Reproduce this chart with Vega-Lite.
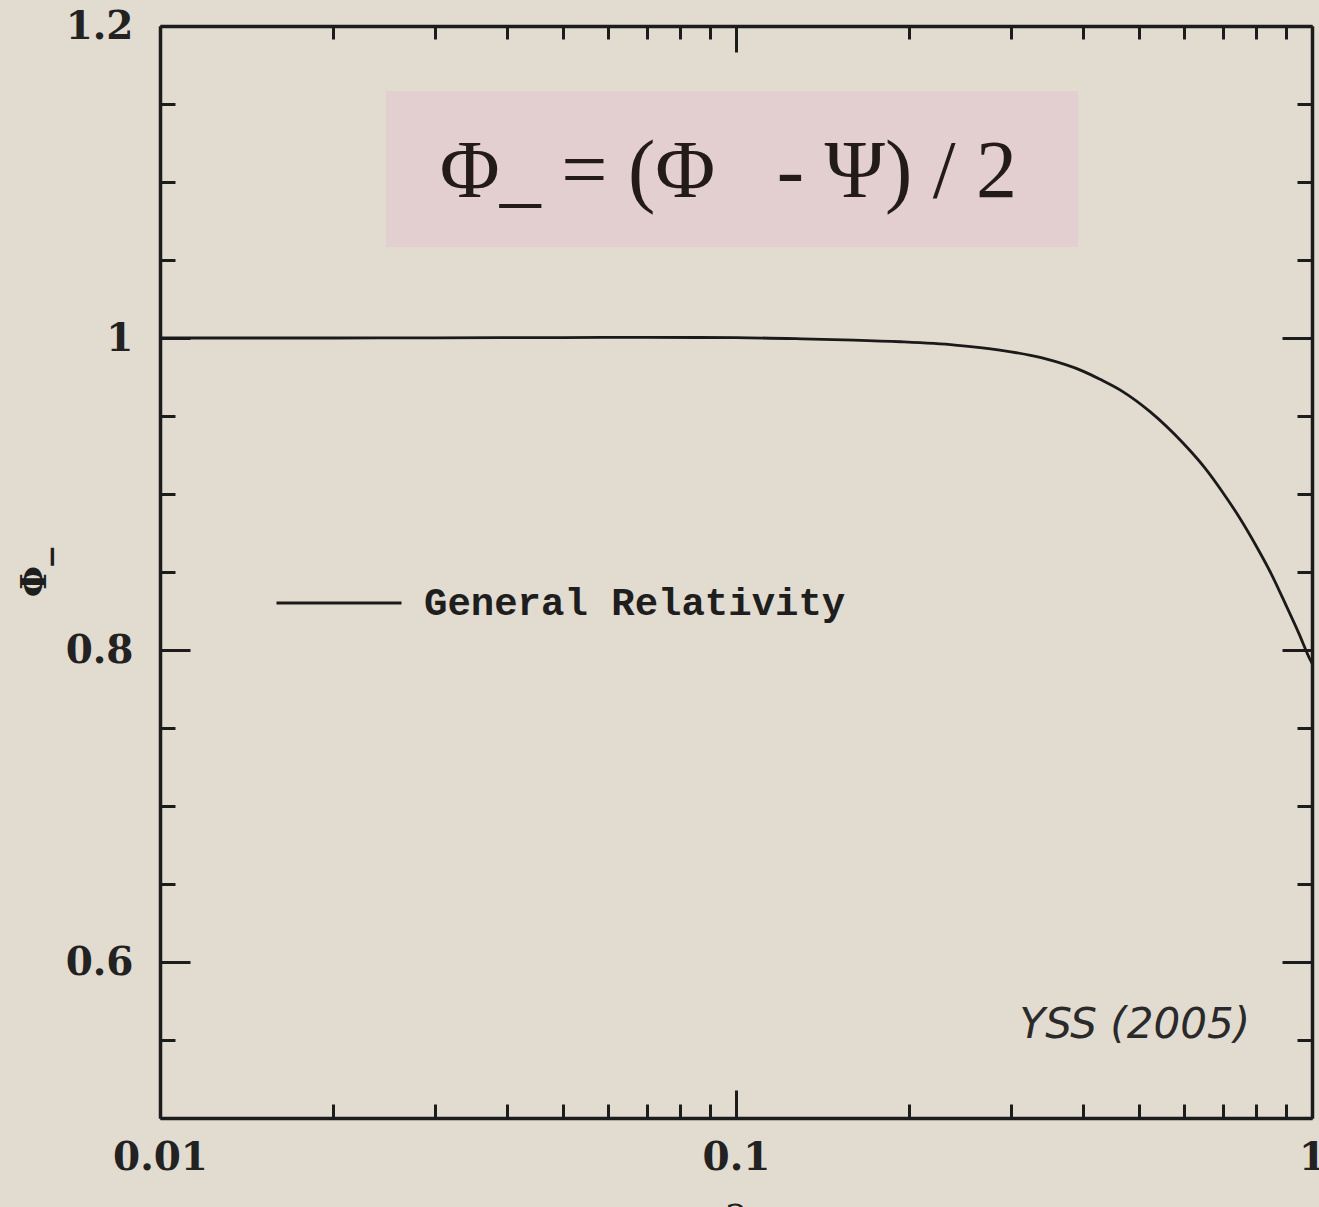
{
  "$schema": "https://vega.github.io/schema/vega-lite/v6.json",
  "width": 1152,
  "height": 1092,
  "autosize": {"type": "none"},
  "padding": {"left": 160, "top": 26, "right": 7, "bottom": 89},
  "background": "#e2dbcf",
  "config": {
    "view": {"stroke": null},
    "axis": {
      "grid": false,
      "domainColor": "#1c1c1c",
      "domainWidth": 3.5,
      "tickColor": "#1c1c1c",
      "tickWidth": 3,
      "labelFont": "DejaVu Serif",
      "labelFontSize": 39,
      "labelFontWeight": "bold",
      "labelColor": "#222222",
      "labelFlush": false,
      "labelOverlap": false,
      "titleFont": "DejaVu Serif",
      "titleFontWeight": "bold",
      "titleColor": "#1e1e1e"
    }
  },
  "datasets": {
    "phiMinus": [
      {"a": 0.01, "phi": 1.0, "model": "General Relativity"},
      {"a": 0.02, "phi": 1.0, "model": "General Relativity"},
      {"a": 0.03, "phi": 1.0001, "model": "General Relativity"},
      {"a": 0.05, "phi": 1.0003, "model": "General Relativity"},
      {"a": 0.07, "phi": 1.0004, "model": "General Relativity"},
      {"a": 0.1, "phi": 1.0002, "model": "General Relativity"},
      {"a": 0.13, "phi": 0.9995, "model": "General Relativity"},
      {"a": 0.16, "phi": 0.9987, "model": "General Relativity"},
      {"a": 0.193, "phi": 0.9976, "model": "General Relativity"},
      {"a": 0.24, "phi": 0.9955, "model": "General Relativity"},
      {"a": 0.287, "phi": 0.9923, "model": "General Relativity"},
      {"a": 0.34, "phi": 0.9872, "model": "General Relativity"},
      {"a": 0.401, "phi": 0.9786, "model": "General Relativity"},
      {"a": 0.4285, "phi": 0.9735, "model": "General Relativity"},
      {"a": 0.47, "phi": 0.9655, "model": "General Relativity"},
      {"a": 0.5233, "phi": 0.9528, "model": "General Relativity"},
      {"a": 0.5977, "phi": 0.9325, "model": "General Relativity"},
      {"a": 0.65, "phi": 0.9172, "model": "General Relativity"},
      {"a": 0.7015, "phi": 0.9005, "model": "General Relativity"},
      {"a": 0.75, "phi": 0.8843, "model": "General Relativity"},
      {"a": 0.8014, "phi": 0.8662, "model": "General Relativity"},
      {"a": 0.85, "phi": 0.8487, "model": "General Relativity"},
      {"a": 0.9036, "phi": 0.8278, "model": "General Relativity"},
      {"a": 0.95, "phi": 0.8102, "model": "General Relativity"},
      {"a": 0.9931, "phi": 0.7936, "model": "General Relativity"},
      {"a": 1.0, "phi": 0.7915, "model": "General Relativity"}
    ]
  },
  "resolve": {"axis": {"x": "independent", "y": "independent"}},
  "layer": [
    {
      "data": {"values": [{"box": "formula"}]},
      "mark": {"type": "rect", "color": "#e3cfd0"},
      "encoding": {
        "x": {"datum": 0.0247, "type": "quantitative", "scale": {"type": "log", "domain": [0.01, 1]}, "axis": null},
        "x2": {"datum": 0.3925},
        "y": {"datum": 1.1583, "type": "quantitative", "scale": {"domain": [0.5, 1.2]}, "axis": null},
        "y2": {"datum": 1.0583}
      }
    },
    {
      "data": {"values": [{"label": "Φ_\u00a0=\u00a0(Φ\u00a0\u00a0\u00a0-\u00a0Ψ)\u00a0/\u00a02"}]},
      "mark": {"type": "text", "font": "Liberation Serif", "fontSize": 82, "color": "#231a1a", "align": "left", "baseline": "alphabetic"},
      "encoding": {
        "x": {"datum": 0.0306, "type": "quantitative", "axis": null},
        "y": {"datum": 1.0904, "type": "quantitative", "axis": null},
        "text": {"field": "label"}
      }
    },
    {
      "data": {"name": "phiMinus"},
      "mark": {"type": "line", "strokeWidth": 2.8, "interpolate": "monotone"},
      "encoding": {
        "x": {
          "field": "a",
          "type": "quantitative",
          "scale": {"type": "log", "domain": [0.01, 1]},
          "axis": {
            "orient": "bottom",
            "values": [0.01, 0.02, 0.03, 0.04, 0.05, 0.06, 0.07, 0.08, 0.09, 0.1, 0.2, 0.3, 0.4, 0.5, 0.6, 0.7, 0.8, 0.9, 1],
            "format": "~g",
            "labelExpr": "datum.value == 0.01 || datum.value == 0.1 || datum.value == 1 ? datum.label : ''",
            "tickSize": {"condition": {"test": "datum.value == 0.01 || datum.value == 0.1 || datum.value == 1", "value": -28}, "value": -14},
            "labelPadding": 48,
            "title": "a",
            "titleFontSize": 40,
            "titleFontWeight": "normal",
            "titlePadding": 0
          }
        },
        "y": {
          "field": "phi",
          "type": "quantitative",
          "scale": {"domain": [0.5, 1.2]},
          "axis": {
            "orient": "left",
            "values": [0.5, 0.55, 0.6, 0.65, 0.7, 0.75, 0.8, 0.85, 0.9, 0.95, 1, 1.05, 1.1, 1.15, 1.2],
            "format": "~g",
            "labelExpr": "datum.value == 0.6 || datum.value == 0.8 || datum.value == 1 || datum.value == 1.2 ? datum.label : ''",
            "tickSize": {"condition": {"test": "datum.value == 0.6 || datum.value == 0.8 || datum.value == 1 || datum.value == 1.2", "value": -30}, "value": -15},
            "labelPadding": 57,
            "title": "Φ_",
            "titleFontSize": 36,
            "titlePadding": 12
          }
        },
        "color": {
          "field": "model",
          "type": "nominal",
          "scale": {"range": ["#1a1a1a"]},
          "legend": {
            "orient": "none",
            "legendX": 115,
            "legendY": 513,
            "title": null,
            "symbolType": "stroke",
            "symbolSize": 15625,
            "symbolStrokeWidth": 2.8,
            "labelFont": "Liberation Mono",
            "labelFontSize": 39,
            "labelFontWeight": "bold",
            "labelColor": "#1e1e1e",
            "labelOffset": 21,
            "labelLimit": 0,
            "padding": 0
          }
        }
      }
    },
    {
      "data": {"name": "phiMinus"},
      "mark": {"type": "line", "opacity": 0},
      "encoding": {
        "x": {
          "field": "a",
          "type": "quantitative",
          "axis": {
            "orient": "top",
            "values": [0.01, 0.02, 0.03, 0.04, 0.05, 0.06, 0.07, 0.08, 0.09, 0.1, 0.2, 0.3, 0.4, 0.5, 0.6, 0.7, 0.8, 0.9, 1],
            "labels": false,
            "title": null,
            "tickSize": {"condition": {"test": "datum.value == 0.01 || datum.value == 0.1 || datum.value == 1", "value": -26}, "value": -13}
          }
        },
        "y": {
          "field": "phi",
          "type": "quantitative",
          "axis": {
            "orient": "right",
            "values": [0.5, 0.55, 0.6, 0.65, 0.7, 0.75, 0.8, 0.85, 0.9, 0.95, 1, 1.05, 1.1, 1.15, 1.2],
            "labels": false,
            "title": null,
            "tickSize": {"condition": {"test": "datum.value == 0.6 || datum.value == 0.8 || datum.value == 1 || datum.value == 1.2", "value": -30}, "value": -15}
          }
        }
      }
    },
    {
      "data": {"values": [{"label": "YSS (2005)"}]},
      "mark": {"type": "text", "font": "DejaVu Sans", "fontStyle": "italic", "fontSize": 42, "color": "#2a2a2a", "align": "right", "baseline": "alphabetic"},
      "encoding": {
        "x": {"datum": 0.7806, "type": "quantitative", "axis": null},
        "y": {"datum": 0.5513, "type": "quantitative", "axis": null},
        "text": {"field": "label"}
      }
    }
  ]
}
